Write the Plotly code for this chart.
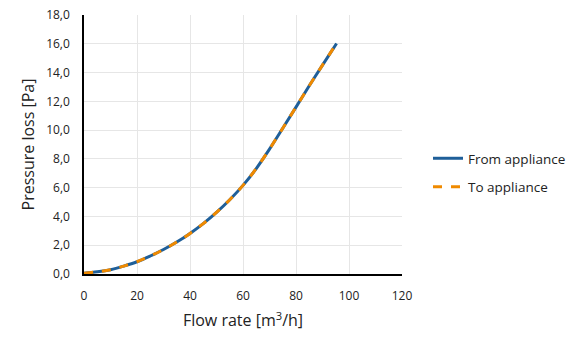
import plotly.graph_objects as go

flow = [0, 5, 10, 15, 20, 25, 30, 35, 40, 45, 50, 55, 60, 65, 70, 75, 80, 85, 90, 95.3]
from_appliance = [0.05, 0.15, 0.3, 0.55, 0.85, 1.25, 1.7, 2.22, 2.82, 3.5, 4.28, 5.16, 6.16, 7.33, 8.68, 10.13, 11.6, 13.08, 14.52, 16.02]
to_appliance = list(from_appliance)

x_ticks = [0, 20, 40, 60, 80, 100, 120]
y_ticks = [0, 2, 4, 6, 8, 10, 12, 14, 16, 18]

FONT = "Open Sans"
fig = go.Figure()
fig.add_trace(go.Scatter(x=flow, y=from_appliance, mode="lines", name="From appliance",
                         legendgroup="a",
                         line=dict(color="#1f5f99", width=3, shape="spline", smoothing=1.0)))
fig.add_trace(go.Scatter(x=flow, y=to_appliance, mode="lines", name="To appliance",
                         legendgroup="b",
                         line=dict(color="#f08a00", width=3, dash="dash", shape="spline", smoothing=1.0)))

PLOT_W = 318
TOTAL_W = 580 - 84
fig.update_layout(
    width=580, height=347,
    margin=dict(l=84, r=0, t=15, b=73),
    paper_bgcolor="white", plot_bgcolor="white",
    separators=",.",
    font=dict(family=FONT, color="#222222", size=12),
    legend=dict(x=(428 - 84) / TOTAL_W, y=0.39, xanchor="left", yanchor="middle",
                font=dict(size=13.5), tracegroupgap=8, itemwidth=30),
    xaxis=dict(domain=[0, PLOT_W / TOTAL_W], range=[0, 120], tickvals=x_ticks,
               showgrid=True, gridcolor="#e6e6e6", automargin=False,
               showline=True, linecolor="black", linewidth=1.5, zeroline=False,
               ticks="", ticklabelstandoff=10,
               title=dict(text="Flow rate [m<sup>3</sup>/h]", font=dict(size=16), standoff=12)),
    yaxis=dict(range=[0, 18], tickvals=y_ticks, tickformat=".1f", showgrid=True, gridcolor="#e6e6e6",
               showline=True, linecolor="black", linewidth=1.5, zeroline=False, automargin=False,
               ticks="", ticklabelstandoff=10,
               title=dict(text="Pressure loss [Pa]", font=dict(size=16), standoff=8)),
)
fig.write_html("out.html")
